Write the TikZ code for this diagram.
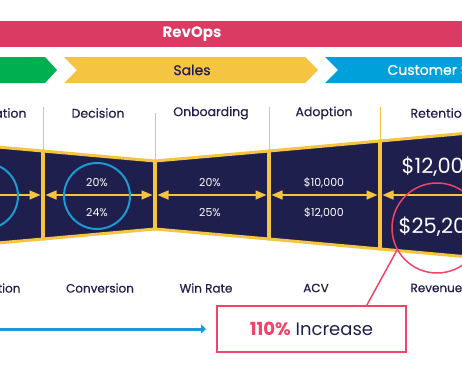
\documentclass[tikz,border=0pt]{standalone}
\usepackage{fontspec}
\setmainfont{Poppins}
\newfontfamily\medfont{Poppins}[FakeBold=0.5]
\usetikzlibrary{arrows.meta,calc,positioning}

\definecolor{navy}{HTML}{1F1F4D}
\definecolor{gold}{HTML}{F5C440}
\definecolor{crimson}{HTML}{DB3A62}
\definecolor{leafgreen}{HTML}{00B050}
\definecolor{skyblue}{HTML}{00A0DA}
\definecolor{rose}{HTML}{F04468}
\definecolor{ringblue}{HTML}{1B9AD6}

\tikzset{
  panel/.style={fill=navy,draw=gold,line width=3pt},
  divider/.style={draw=gold,line width=3.5pt},
  tick/.style={draw=gold,line width=1pt},
  stage/.style={font=\medfont\fontsize{12.5}{14}\selectfont,text=navy},
  metric/.style={font=\medfont\fontsize{12}{14}\selectfont,text=navy},
  val/.style={font=\fontsize{11}{13}\selectfont,text=white},
  bigval/.style={font=\fontsize{21}{24}\selectfont,text=white,anchor=west},
  span/.style={gold,line width=1.5pt,shorten <=2.5pt,shorten >=2.5pt,
    {Triangle[length=11pt,width=9pt]}-{Triangle[length=11pt,width=9pt]}},
  ring/.style={circle,draw=ringblue,line width=2pt,minimum size=66pt,inner sep=0pt},
}

\begin{document}
\begin{tikzpicture}[x=1pt,y=-1pt]
    \useasboundingbox (0,0) rectangle (462,386);
    \clip (0,0) rectangle (462,386);

    % team bars
    \fill[crimson] (-5,21) rectangle (470,47);
    \node[font=\fontsize{15}{18}\selectfont\bfseries,text=white] (revops) at (192,34) {RevOps};

    \fill[leafgreen] (-5,57) -- (45,57) -- (57,70) -- (45,83) -- (-5,83) -- cycle;
    \fill[gold] (64,57) -- (305,57) -- (318,70) -- (305,83) -- (64,83) -- (77,70) -- cycle;
    \fill[skyblue] (325,57) -- (470,57) -- (470,83) -- (325,83) -- (338,70) -- cycle;
    \node[font=\medfont\fontsize{14}{17}\selectfont,text=white,anchor=east] (mkt) at (2,70) {Marketing};
    \node[font=\medfont\fontsize{14}{17}\selectfont,text=navy] (sales) at (192,70) {Sales};
    \node[font=\medfont\fontsize{14}{17}\selectfont,text=white,anchor=west] (cs) at (384,70) {Customer Success};

    % funnel
    \foreach \n/\x/\h in {0/-70/54, 1/43/44, 2/155/34, 3/269/44, 4/380/54, 5/480/63} {
        \coordinate (t\n) at (\x,{195-\h});
        \coordinate (b\n) at (\x,{195+\h});
        \coordinate (a\n) at (\x,195);
    }
    \foreach \a/\b in {0/1,1/2,2/3,3/4,4/5}
        \draw[panel] (t\a) -- (t\b) -- (b\b) -- (b\a) -- cycle;
    \foreach \n/\len in {1/44,2/48,3/44,4/34} {
        \draw[divider] (t\n) -- (b\n);
        \draw[tick] (t\n) -- ++(0,-\len);
    }
    \foreach \a/\b in {0/1,1/2,2/3,3/4,4/5}
        \draw[span] (a\a) -- (a\b);

    \node[ring] (ring1) at (-15,196) {};
    \node[ring] (ring2) at (97,196) {};
    \node[circle,draw=rose,line width=1.5pt,minimum size=90pt,inner sep=0pt] (rc) at (437,228) {};

    % stage names
    \node[stage,anchor=east] (eval) at (30,113) {Evaluation};
    \node[stage] (dec) at (98,113) {Decision};
    \node[stage] (onb) at (211,113) {Onboarding};
    \node[stage] (adop) at (324,113) {Adoption};
    \node[stage,anchor=west] (ret) at (407,113) {Retention};

    % values
    \node[val] (d1) at (97,183) {20\%};
    \node[val] (d2) at (97,213) {24\%};
    \node[val] (o1) at (210,183) {20\%};
    \node[val] (o2) at (210,213) {25\%};
    \node[val] (ad1) at (324,183) {\$10,000};
    \node[val] (ad2) at (324,213) {\$12,000};
    \node[bigval] (r1) at (398,167) {\$12,000};
    \node[bigval] (r2) at (395,227) {\$25,200};

    % metrics
    \node[metric,anchor=east] (act) at (24,288) {Activation};
    \node[metric] (conv) at (100,288) {Conversion};
    \node[metric] (win) at (206,288) {Win Rate};
    \node[metric] (acv) at (316,288) {ACV};
    \node[metric,anchor=west] (rev) at (407,288) {Revenue};

    % result
    \node[draw=rose,line width=2pt,minimum width=189pt,minimum height=46pt,
          font=\fontsize{18}{21}\selectfont,text=navy] (gain) at (311.5,329)
          {\textcolor{rose}{\bfseries 110\%} Increase};
    \coordinate (tail) at (-5,329);
    \draw[ringblue,line width=3pt,-{Triangle[length=5pt,width=9pt]},shorten >=10pt] (tail) -- (gain.west);
    \draw[rose,line width=1.5pt] (rc.209) -- ($(gain.north west)!0.79!(gain.north east)$);
\end{tikzpicture}
\end{document}
